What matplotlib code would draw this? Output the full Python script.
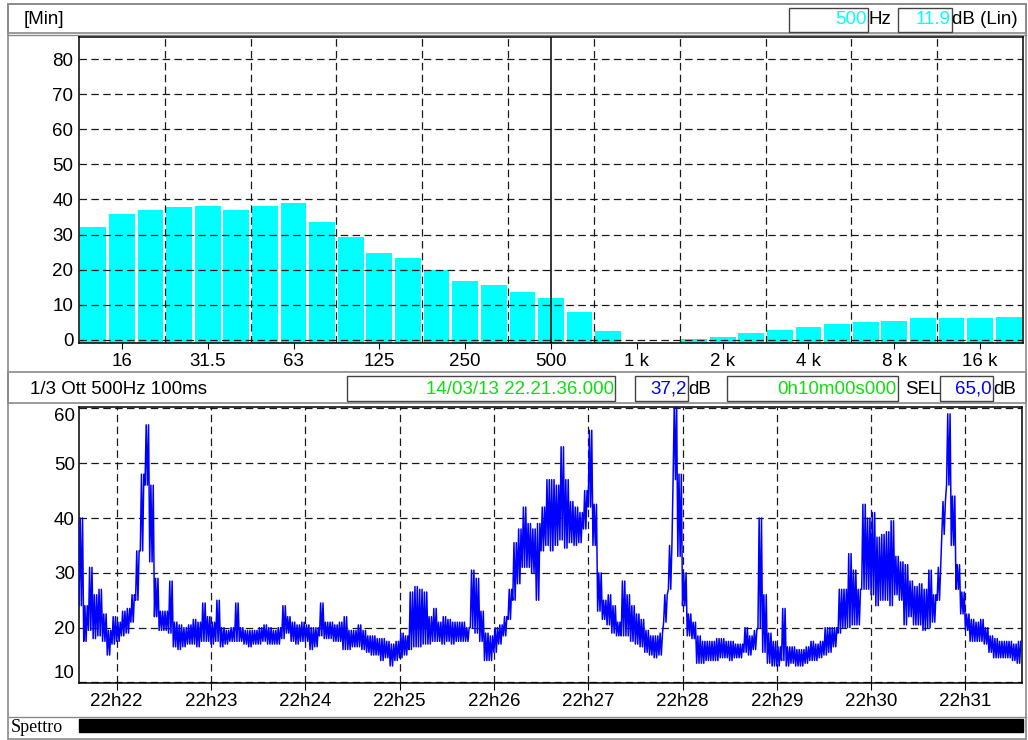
import matplotlib.pyplot as plt
from matplotlib.patches import Rectangle
import numpy as np

plt.rcParams['font.family'] = ['Liberation Sans', 'DejaVu Sans']
plt.rcParams['font.size'] = 13.5

# 1/3 octave spectrum [Min]
bands = ['12.5', '16', '20', '25', '31.5', '40', '50', '63', '80', '100', '125', '160',
         '200', '250', '315', '400', '500', '630', '800', '1 k', '1.25 k', '1.6 k', '2 k',
         '2.5 k', '3.15 k', '4 k', '5 k', '6.3 k', '8 k', '10 k', '12.5 k', '16 k', '20 k']
band_levels = [32.2, 35.9, 37.0, 37.9, 38.2, 37.0, 38.2, 39.0, 33.6, 29.3, 24.8, 23.4,
               19.9, 16.8, 15.7, 13.7, 11.9, 8.0, 2.6, -3.0, -3.0, 0.2, 0.9,
               2.0, 2.8, 3.8, 4.6, 5.1, 5.4, 6.1, 6.1, 6.1, 6.4]
cursor_band = '500'

# 500 Hz level vs time, 3 s columns (low / high of the trace), start 22:21:36
step_s = 3
start_h, start_m, start_s = 22, 21, 36
level_lo = [24, 17.5, 19.5, 18, 18.5, 17.5, 15, 17, 17.5, 18.5, 19, 21, 25, 34, 46, 32, 22, 19.5, 19.5, 19,
            16.5, 16, 16.5, 17, 17, 16.5, 17.5, 17.5, 17, 17.5, 16.5, 17, 17.5, 17.5, 17.5, 17, 16.5, 17, 17, 17.5,
            17, 17, 17, 18, 19, 17.5, 17, 17.5, 17.5, 16,
            16.5, 18.5, 18, 18, 17.5, 17.5, 16, 16, 16.5, 16.5, 16, 15.5, 15, 15, 14, 14.5, 13, 14, 14.5, 15,
            16, 16.5, 16.5, 17, 17, 17.5, 17.5, 17, 17.5, 17, 17.5, 17.5, 17.5, 20, 19, 17.5, 14, 14, 15.5, 17,
            18.5, 21.5, 25, 28, 31, 31, 30, 25, 34, 35,
            34, 35, 36, 34.5, 35.5, 35, 35.5, 38, 42, 35, 23, 21.5, 20.5, 19, 18.5, 18.5, 18.5, 17.5, 17, 16.5,
            15.5, 15, 14.5, 15, 21, 27, 47, 33, 24, 18.5, 18, 13.5, 13.5, 14, 14, 14, 14.5, 14.5, 14, 14.5,
            14.5, 15.5, 15, 16, 20, 15.5, 13.5, 13, 13, 14,
            13, 13.5, 13, 13, 13.5, 14, 14, 14.5, 15, 15.5, 16.5, 19, 20, 20, 20.5, 20.5, 27, 27, 26, 24,
            25, 25, 24, 26, 25, 20.5, 22, 20.5, 20.5, 19.5, 20, 21, 25, 37, 46, 35, 27, 22.5, 19.5, 17.5,
            17.5, 17.5, 17, 15.5, 14.5, 14.5, 14.5, 14.5, 14, 13.5]
level_hi = [40, 24, 31, 26, 27, 22.5, 19.5, 22, 21, 23, 23.5, 26, 34, 48, 57, 46, 29, 23, 23, 28.5,
            21, 20.5, 20, 20.5, 21.5, 21, 24.5, 22, 21, 25, 20, 19.5, 20, 24.5, 20, 19.5, 19.5, 19.5, 20, 20.5,
            20, 19.5, 20, 24, 22, 21, 20.5, 21, 20.5, 20,
            20, 24.5, 21, 21, 20.5, 21, 22, 19.5, 19.5, 20.5, 19.5, 18.5, 18.5, 18, 18, 17.5, 17, 17.5, 19, 18.5,
            26.5, 27.5, 27, 26.5, 22, 23.5, 21, 22, 21.5, 21, 21, 21, 20, 30.5, 29, 23, 19, 18.5, 20, 20.5,
            22, 27, 35.5, 38, 42, 39, 38, 39, 42, 47,
            47, 46, 53, 47, 43, 42, 41, 45, 56, 42.5, 30, 25, 26, 24, 21, 28.5, 26, 24, 22.5, 21.5,
            19.5, 18.5, 18.5, 19, 26, 35, 61, 48, 30, 22.5, 21, 18.5, 17.5, 17.5, 17.5, 18, 18, 17.5, 17.5, 17,
            17, 20, 18.5, 19.5, 40, 26, 19, 17.5, 16.5, 23.5,
            16.5, 16.5, 16, 16, 16.5, 17.5, 17, 17.5, 20, 20, 20, 27, 27, 33.5, 30.5, 27, 42.5, 40, 41, 36.5,
            37, 37.5, 39.5, 33, 32, 31.5, 28.5, 27.5, 28, 27, 30.5, 26, 31, 43, 59, 44, 31.5, 26.5, 22.5, 21.5,
            21, 21.5, 20, 18.5, 18, 17.5, 17.5, 17.5, 17, 17.5]

W, H = 1028, 740
fig = plt.figure(figsize=(W / 100, H / 100), dpi=100)


def frac(x0, y0, x1, y1):
    return [x0 / W, 1 - y1 / H, (x1 - x0) / W, (y1 - y0) / H]


# background panel with boxes and texts in pixel coordinates
bg = fig.add_axes([0, 0, 1, 1])
bg.set_xlim(0, W)
bg.set_ylim(H, 0)
bg.axis('off')


def box(x0, y0, x1, y1, ec='black', lw=1.0, fc='none'):
    bg.add_patch(Rectangle((x0, y0), x1 - x0, y1 - y0, fill=fc != 'none', fc=fc, ec=ec, lw=lw))


gray = '#8a8a8a'
box(8, 4, 1026, 739, ec=gray, lw=1.2)
box(8, 4, 1026, 33, ec=gray, lw=1.2)
bg.plot([8, 1026], [35, 35], color=gray, lw=1)
box(8, 372, 1026, 403, ec=gray, lw=1.2)
bg.plot([8, 1026], [717, 717], color=gray, lw=1)

# header
bg.text(24, 19, '[Min]', va='center', ha='left')
box(789, 8, 868, 32, ec='#444444')
bg.text(867, 20, '500', color='#00ffff', va='center', ha='right')
bg.text(868, 20, 'Hz', va='center', ha='left')
box(898, 8, 952, 32, ec='#444444')
bg.text(951, 20, '11.9', color='#00ffff', va='center', ha='right')
bg.text(952, 20, 'dB (Lin)', va='center', ha='left')

# info bar
green = '#11dd11'
bg.text(30, 389, '1/3 Ott 500Hz 100ms', va='center', ha='left')
box(347, 376, 615, 401, ec='#444444')
bg.text(614, 389, '14/03/13 22.21.36.000', color=green, va='center', ha='right')
box(635, 376, 688, 401, ec='#444444')
bg.text(687, 389, '37,2', color='#0000ff', va='center', ha='right')
bg.text(688, 389, 'dB', va='center', ha='left')
box(727, 376, 898, 401, ec='#444444')
bg.text(897, 389, '0h10m00s000', color=green, va='center', ha='right')
bg.text(905, 389, 'SEL', va='center', ha='left')
box(940, 376, 993, 401, ec='#444444')
bg.text(992, 389, '65,0', color='#0000ff', va='center', ha='right')
bg.text(993, 389, 'dB', va='center', ha='left')

# bottom strip
bg.text(11, 727, 'Spettro', family=['Liberation Serif', 'DejaVu Serif'], fontsize=13,
        va='center', ha='left')
box(79, 719, 1023, 732, ec='black', fc='black')

grid_style = dict(color='#1a1a1a', linestyle=(0, (6, 3.5)), linewidth=0.9)

# ---- spectrum
ax1 = fig.add_axes(frac(79, 37, 1023, 343))
x = np.arange(len(bands))
y_floor = -0.9
levels = np.array(band_levels)
ax1.bar(x, levels - y_floor, bottom=y_floor, width=0.9, color='#00ffff', zorder=2)
ax1.axvline(bands.index(cursor_band), color='black', lw=1.1, zorder=3)
ax1.set_xlim(-0.5, len(bands) - 0.5)
ax1.set_ylim(y_floor, 86.3)
ax1.set_xticks(x[1::3])
ax1.set_xticklabels(bands[1::3])
ax1.set_xticks(x[2:-3:3] + 0.5, minor=True)
ax1.set_yticks(np.arange(0, 81, 10))
ax1.tick_params(axis='x', which='major', direction='out', length=4, pad=3)
ax1.tick_params(axis='x', which='minor', length=0)
ax1.tick_params(axis='y', length=0, pad=4)
ax1.grid(True, axis='x', which='minor', zorder=1, **grid_style)
ax1.grid(True, axis='y', which='major', zorder=1, **grid_style)
ax1.set_axisbelow(False)
for s in ax1.spines.values():
    s.set_linewidth(1.1)

# ---- time history: each 3 s column is drawn as a dense low/high stroke
ax2 = fig.add_axes(frac(79, 407, 1022, 683))
t = np.arange(len(level_lo)) * step_s
sub = 4
tx = (t[:, None] + np.arange(sub) * step_s / sub).ravel()
ty = np.where(np.arange(sub) % 2 == 0,
              np.array(level_lo)[:, None],
              np.array(level_hi)[:, None]).ravel()
ax2.plot(tx, ty, color='#0000ff', lw=1.1, zorder=3)
ax2.set_xlim(0, 600)
ax2.set_ylim(9.9, 60.25)
start = start_h * 3600 + start_m * 60 + start_s
minute_ticks = np.arange(60 - start_s, 600, 60)
ax2.set_xticks(minute_ticks)
ax2.set_xticklabels(['%dh%02d' % divmod((start + s) // 60, 60) for s in minute_ticks])
ax2.set_yticks(np.arange(10, 61, 10))
ax2.tick_params(axis='x', direction='out', length=5, pad=2)
ax2.tick_params(axis='y', length=0, pad=3)
ylabels = ax2.get_yticklabels()
ylabels[0].set_va('bottom')
ylabels[-1].set_va('top')
ax2.grid(True, zorder=1, **grid_style)
for s in ax2.spines.values():
    s.set_linewidth(1.1)

fig.savefig('out.png', dpi=100)
